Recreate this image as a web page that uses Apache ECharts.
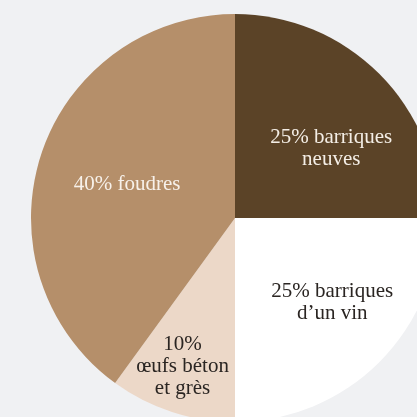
<!DOCTYPE html>
<html>
<head>
<meta charset="utf-8">
<script src="https://cdn.jsdelivr.net/npm/echarts@6/dist/echarts.min.js"></script>
<style>
html,body{margin:0;padding:0;background:#f0f1f3;}
#c{width:417px;height:417px;}
</style>
</head>
<body>
<div id="c"></div>
<script>
const categories = ["25% barriques\nneuves", "25% barriques\nd\u2019un vin", "10%\n\u0153ufs b\u00e9ton\net gr\u00e8s", "40% foudres"];
const values = [25, 25, 10, 40];
const colors = ["#5b4327", "#ffffff", "#ecd8c8", "#b58f6a"];
const labelColors = ["#f4eee6", "#2a2522", "#2a2522", "#f7f1ea"];
const labelOffsets = [[22, 5], [23, 10], [-20, 49], [-8, -1]];

const chart = echarts.init(document.getElementById('c'), null, {renderer: 'canvas'});
chart.setOption({
  backgroundColor: '#f0f1f3',
  animation: false,
  series: [{
    type: 'pie',
    center: [235, 218],
    radius: [0, 204],
    startAngle: 90,
    clockwise: true,
    avoidLabelOverlap: false,
    silent: true,
    labelLine: {show: false},
    emphasis: {disabled: true},
    data: categories.map((name, i) => ({
      name: name,
      value: values[i],
      itemStyle: {color: colors[i], borderWidth: 0},
      label: {
        show: true,
        position: 'inside',
        formatter: '{b}',
        color: labelColors[i],
        fontFamily: 'Liberation Serif',
        fontSize: 21,
        lineHeight: 22,
        align: 'center',
        offset: labelOffsets[i]
      }
    }))
  }]
});
</script>
</body>
</html>
